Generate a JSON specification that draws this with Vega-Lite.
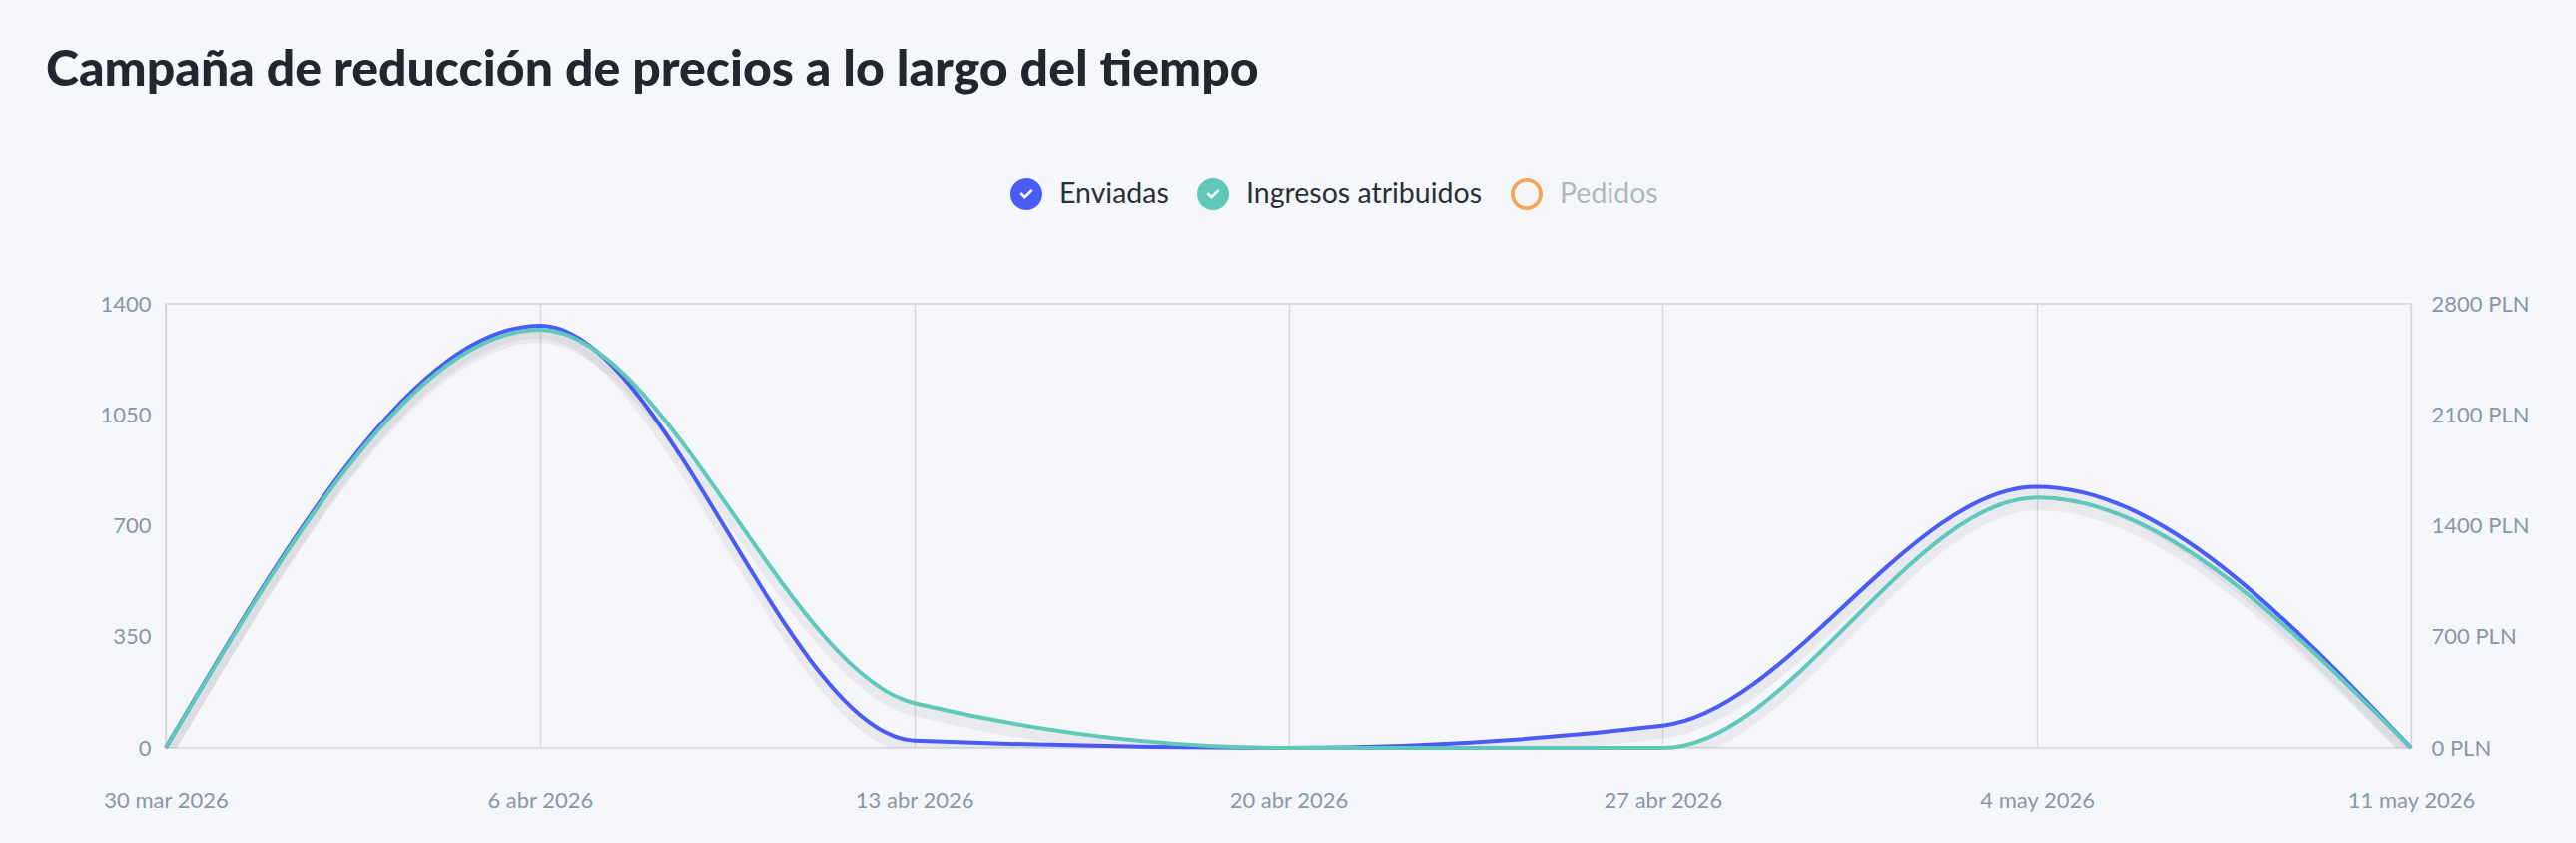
{
  "$schema": "https://vega.github.io/schema/vega-lite/v6.json",
  "width": 2249,
  "height": 445,
  "autosize": {"type": "none"},
  "padding": {"left": 166, "top": 304, "right": 165, "bottom": 95},
  "background": "#f5f6fa",
  "title": {
    "text": "Campaña de reducción de precios a lo largo del tiempo",
    "anchor": "start",
    "frame": "group",
    "dx": -120,
    "dy": -78,
    "font": "Lato",
    "fontSize": 50,
    "fontWeight": 900,
    "color": "#22272f"
  },
  "data": {
    "values": [
      {"fecha": "2026-03-30", "enviadas": 0, "ingresos": 0},
      {"fecha": "2026-04-06", "enviadas": 1331, "ingresos": 2636},
      {"fecha": "2026-04-13", "enviadas": 23, "ingresos": 282},
      {"fecha": "2026-04-20", "enviadas": 0, "ingresos": 0},
      {"fecha": "2026-04-27", "enviadas": 70, "ingresos": 0},
      {"fecha": "2026-05-04", "enviadas": 823, "ingresos": 1577},
      {"fecha": "2026-05-11", "enviadas": 0, "ingresos": 0}
    ]
  },
  "encoding": {
    "x": {
      "field": "fecha",
      "type": "temporal",
      "title": null,
      "scale": {"type": "utc", "nice": false},
      "axis": {
        "values": [
          {"year": 2026, "month": "mar", "date": 30, "utc": true},
          {"year": 2026, "month": "apr", "date": 6, "utc": true},
          {"year": 2026, "month": "apr", "date": 13, "utc": true},
          {"year": 2026, "month": "apr", "date": 20, "utc": true},
          {"year": 2026, "month": "apr", "date": 27, "utc": true},
          {"year": 2026, "month": "may", "date": 4, "utc": true},
          {"year": 2026, "month": "may", "date": 11, "utc": true}
        ],
        "labelExpr": "utcFormat(datum.value, '%-d') + ' ' + ['ene','feb','mar','abr','may','jun','jul','ago','sep','oct','nov','dic'][utcmonth(datum.value)] + ' ' + utcyear(datum.value)",
        "grid": true,
        "gridColor": "#d6d9df",
        "gridWidth": 1.5,
        "domain": false,
        "ticks": false,
        "labelPadding": 42,
        "labelFlush": false,
        "labelOverlap": false
      }
    }
  },
  "layer": [
    {
      "encoding": {
        "y": {
          "field": "enviadas",
          "type": "quantitative",
          "title": null,
          "scale": {"domain": [0, 1400], "nice": false},
          "axis": {
            "orient": "left",
            "values": [0, 350, 700, 1050, 1400],
            "format": "d",
            "grid": false,
            "domain": false,
            "ticks": false,
            "labelPadding": 15
          }
        }
      },
      "layer": [
        {
          "mark": {"type": "line", "interpolate": "monotone", "color": "#1c2230", "opacity": 0.06, "strokeWidth": 12, "yOffset": 7, "clip": true}
        },
        {
          "mark": {"type": "line", "interpolate": "monotone", "strokeWidth": 4},
          "encoding": {
            "color": {
              "datum": "Enviadas",
              "type": "nominal",
              "scale": {
                "domain": ["Enviadas", "Ingresos atribuidos", "Pedidos"],
                "range": ["#4a5cf6", "#5fc8bb", "#f0a65b"]
              },
              "legend": {
                "orient": "none",
                "legendX": 846,
                "legendY": -126,
                "direction": "horizontal",
                "title": null,
                "labelFont": "Lato",
                "labelFontSize": 28.5,
                "labelColor": "#2b2f36",
                "labelLimit": 500,
                "labelOffset": 17,
                "columnPadding": 28,
                "symbolSize": 1024,
                "encode": {
                  "symbols": {
                    "update": {
                      "shape": {"signal": "datum.value === 'Pedidos' ? 'M-1,0A1,1,0,1,1,1,0A1,1,0,1,1,-1,0Z M-0.76,0A0.76,0.76,0,1,0,0.76,0A0.76,0.76,0,1,0,-0.76,0Z' : 'M-1,0A1,1,0,1,1,1,0A1,1,0,1,1,-1,0Z M-0.42,0L-0.1,0.32L0.42,-0.2L0.3,-0.32L-0.1,0.08L-0.3,-0.12Z'"},
                      "fill": {"signal": "scale('color', datum.value)"},
                      "stroke": {"value": "transparent"},
                      "strokeWidth": {"value": 0},
                      "opacity": {"value": 1},
                      "size": {"value": 1024}
                    }
                  },
                  "labels": {
                    "update": {
                      "fill": {"signal": "datum.value === 'Pedidos' ? '#b3b6bb' : '#2b2f36'"}
                    }
                  }
                }
              }
            }
          }
        }
      ]
    },
    {
      "encoding": {
        "y": {
          "field": "ingresos",
          "type": "quantitative",
          "title": null,
          "scale": {"domain": [0, 2800], "nice": false},
          "axis": {
            "orient": "right",
            "values": [0, 700, 1400, 2100, 2800],
            "labelExpr": "format(datum.value, 'd') + ' PLN'",
            "grid": false,
            "domain": false,
            "ticks": false,
            "labelPadding": 20
          }
        }
      },
      "layer": [
        {
          "mark": {"type": "line", "interpolate": "monotone", "color": "#1c2230", "opacity": 0.06, "strokeWidth": 12, "yOffset": 7, "clip": true}
        },
        {
          "mark": {"type": "line", "interpolate": "monotone", "strokeWidth": 4},
          "encoding": {
            "color": {"datum": "Ingresos atribuidos", "type": "nominal"}
          }
        }
      ]
    }
  ],
  "resolve": {"scale": {"y": "independent"}},
  "config": {
    "view": {"stroke": "#d3d6dc", "strokeWidth": 1.5},
    "axis": {
      "labelFont": "Lato",
      "labelFontSize": 22,
      "labelColor": "#8a96a7"
    }
  }
}
